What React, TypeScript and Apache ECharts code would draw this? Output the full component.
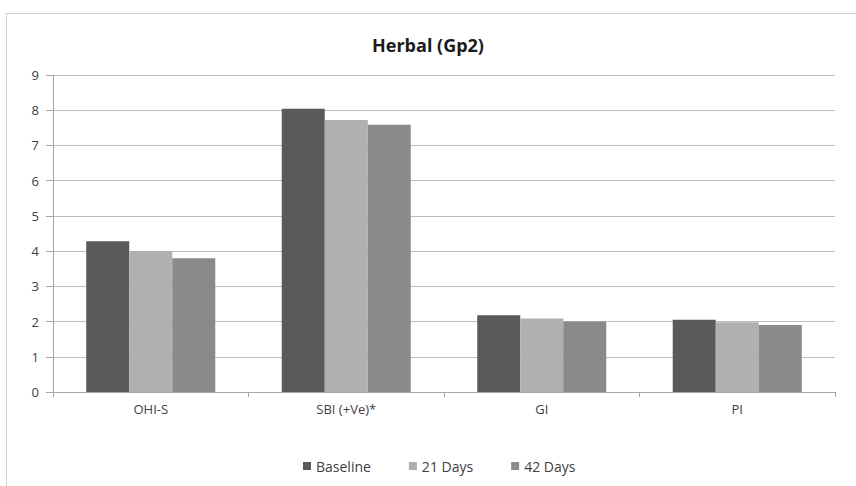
import React, { useEffect, useRef } from "react";
import * as echarts from "echarts";

const categories = ["OHI-S", "SBI (+Ve)*", "GI", "PI"];
const baseline = [4.28, 8.04, 2.18, 2.05];
const days21 = [4.0, 7.72, 2.09, 1.98];
const days42 = [3.8, 7.59, 2.0, 1.9];
const yTicks = [0, 1, 2, 3, 4, 5, 6, 7, 8, 9];

const FONT = "'Open Sans', 'Noto Sans', sans-serif";

export default function App() {
  const ref = useRef<HTMLDivElement>(null);
  useEffect(() => {
    document.body.style.margin = "0";
    const chart = echarts.init(ref.current!, undefined, { renderer: "svg" });
    chart.setOption({
      animation: false,
      backgroundColor: "#ffffff",
      title: {
        text: "Herbal (Gp2)",
        left: "center",
        top: 31,
        textStyle: { fontFamily: FONT, fontSize: 18, fontWeight: "bold", color: "#1a1a1a" },
      },
      graphic: [
        {
          type: "rect",
          shape: { x: 6.5, y: 13.5, width: 900, height: 600 },
          style: { fill: "none", stroke: "#cfcfcf", lineWidth: 1 },
          silent: true,
        },
      ],
      legend: {
        bottom: 8,
        left: 298,
        itemWidth: 8,
        itemHeight: 8,
        itemGap: 38,
        icon: "rect",
        textStyle: { fontFamily: FONT, fontSize: 14, color: "#404040" },
        data: ["Baseline", "21 Days", "42 Days"],
      },
      grid: { left: 53, right: 21, top: 75, bottom: 94 },
      xAxis: {
        type: "category",
        data: categories,
        axisLine: { lineStyle: { color: "#a6a6a6" } },
        axisTick: { show: true, alignWithLabel: false, length: 5, lineStyle: { color: "#a6a6a6" } },
        axisLabel: { fontFamily: FONT, fontSize: 13, color: "#404040", margin: 10 },
      },
      yAxis: {
        type: "value",
        min: yTicks[0],
        max: yTicks[yTicks.length - 1],
        interval: 1,
        axisLine: { show: true, lineStyle: { color: "#a6a6a6" } },
        axisTick: { show: true, length: 7, lineStyle: { color: "#a6a6a6" } },
        axisLabel: { fontFamily: FONT, fontSize: 13, color: "#404040", margin: 14 },
        splitLine: { lineStyle: { color: "#bdbdbd" } },
      },
      series: [
        { name: "Baseline", type: "bar", data: baseline, itemStyle: { color: "#5a5a5a" }, barWidth: "22%", barGap: "0%", barCategoryGap: "34%" },
        { name: "21 Days", type: "bar", data: days21, itemStyle: { color: "#b0b0b0" }, barWidth: "22%", barGap: "0%" },
        { name: "42 Days", type: "bar", data: days42, itemStyle: { color: "#8a8a8a" }, barWidth: "22%", barGap: "0%" },
      ],
    });
    return () => chart.dispose();
  }, []);
  return <div ref={ref} style={{ width: 856, height: 486 }} />;
}
